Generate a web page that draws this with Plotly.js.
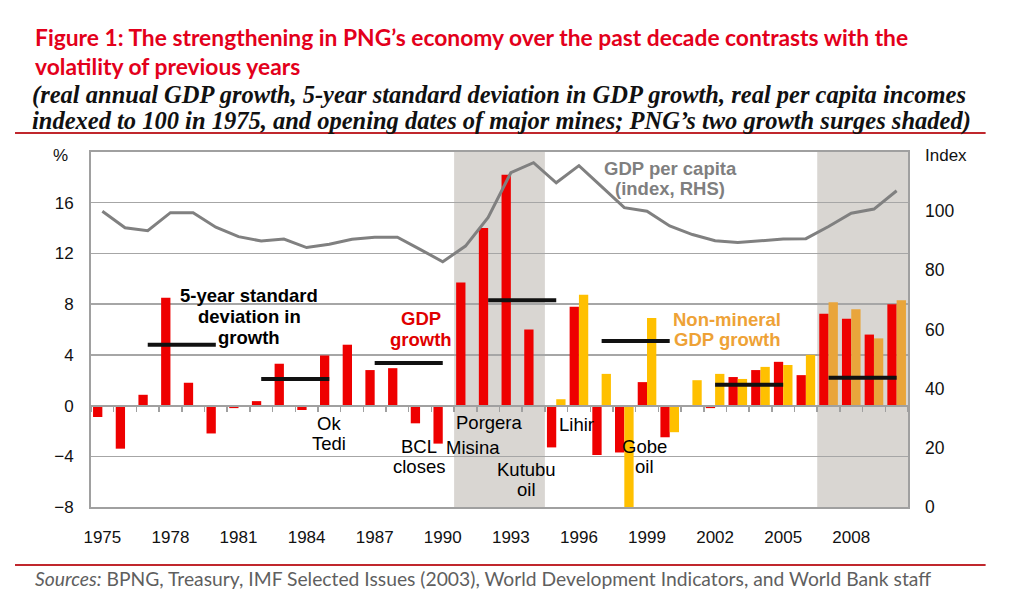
<!DOCTYPE html>
<html><head><meta charset="utf-8">
<script src="https://cdn.plot.ly/plotly-3.0.1.min.js"></script>
<style>body{margin:0;background:#fff}#chart{width:1010px;height:612px}</style>
</head><body><div id="chart"></div>
<script>
// ---- data ----
const years = [1975,1976,1977,1978,1979,1980,1981,1982,1983,1984,1985,1986,1987,1988,1989,1990,1991,1992,1993,1994,1995,1996,1997,1998,1999,2000,2001,2002,2003,2004,2005,2006,2007,2008,2009,2010];
const gdpGrowth = [-0.9,-3.4,0.85,8.5,1.8,-2.2,-0.2,0.35,3.3,-0.35,3.95,4.8,2.8,2.95,-1.4,-3.0,9.7,14.0,18.2,6.0,-3.3,7.8,-3.9,-3.7,1.85,-2.5,0.0,-0.2,2.25,2.8,3.45,2.4,7.25,6.85,5.6,8.0];
const nonMineralGrowth = [null,null,null,null,null,null,null,null,null,null,null,null,null,null,null,null,null,null,null,null,0.5,8.75,2.5,-8.1,6.9,-2.1,2.0,2.5,2.1,3.05,3.2,4.0,8.15,7.6,5.3,8.3];
const gdpPerCapitaIndex = [100,94.4,93.4,99.5,99.5,94.6,91.4,89.9,90.6,87.7,88.8,90.5,91.2,91.2,87.1,82.9,88.2,97.9,113.0,116.4,109.6,115.4,108.3,101.2,100.0,95.0,92.1,90.0,89.4,89.9,90.6,90.7,94.8,99.3,100.7,106.9];
const sdStart = [1977,1982,1987,1992,1997,2002,2007];
const sdEnd   = [1980,1985,1990,1995,2000,2005,2010];
const sdValue = [4.8,2.1,3.35,8.3,5.1,1.65,2.2];
const xTickYears = [1975,1978,1981,1984,1987,1990,1993,1996,1999,2002,2005,2008];
const leftTicks = [-8,-4,0,4,8,12,16];
const rightTicks = [0,20,40,60,80,100];
const shadeStart = [1990.5,2006.5];
const shadeEnd = [1994.5,2010.5];
const mineLabels = [["Ok","Tedi"],["BCL","closes"],["Misina"],["Porgera"],["Kutubu","oil"],["Lihir"],["Gobe","oil"]];

// ---- traces ----
const FONT = 'Arial, "Liberation Sans", sans-serif';
const orangeColors = years.map(y => y > shadeStart[1] ? '#E9A53B' : '#FFC000');
const sdX = [], sdY = [];
sdStart.forEach((s,i)=>{ sdX.push(s, sdEnd[i], null); sdY.push(sdValue[i], sdValue[i], null); });

const traces = [
  {type:'bar', x:years, y:gdpGrowth, marker:{color:'#EE0000'}, xaxis:'x', yaxis:'y', hoverinfo:'skip'},
  {type:'bar', x:years, y:nonMineralGrowth, marker:{color:orangeColors}, xaxis:'x', yaxis:'y', hoverinfo:'skip'},
  {type:'scatter', mode:'lines', x:sdX, y:sdY, line:{color:'#111111', width:4}, xaxis:'x', yaxis:'y', hoverinfo:'skip'},
  {type:'scatter', mode:'lines', x:years, y:gdpPerCapitaIndex, line:{color:'#808080', width:3}, xaxis:'x', yaxis:'y2', hoverinfo:'skip'},
  {type:'scatter', mode:'none', x:[years[0]], y:[0], xaxis:'x2', yaxis:'y', hoverinfo:'skip'}
];

const shapes = shadeStart.map((s,i)=>({type:'rect', xref:'x', yref:'paper', x0:s, x1:shadeEnd[i], y0:0, y1:1, fillcolor:'#D9D6D2', line:{width:0}, layer:'below'}));
shapes.push({type:'line', xref:'paper', yref:'paper', x0:-0.093, x1:1.095, y0:(507-133)/355, y1:(507-133)/355, line:{color:'#C0272D', width:2}});
shapes.push({type:'line', xref:'paper', yref:'paper', x0:-0.093, x1:1.095, y0:(507-565)/355, y1:(507-565)/355, line:{color:'#C0272D', width:2}});

const annotations = [];
function addPx(text, px, py, opts){
  annotations.push(Object.assign({text, x:(px-91)/817, y:(507-py)/355, xref:'paper', yref:'paper', showarrow:false, xanchor:'center', yanchor:'middle'}, opts));
}
function addLines(lines, px, py, step, opts){ lines.forEach((t,i)=> addPx(t, px, py + i*step, opts)); }

const TITLE_FONT = 'Lato, "Open Sans", Arial, sans-serif';
const SERIF = '"Liberation Serif", "Times New Roman", serif';
addPx('<b>Figure 1: The strengthening in PNG’s economy over the past decade contrasts with the</b>', 33, 37, {xanchor:'left', font:{family:TITLE_FONT, size:22.8, color:'#E3001B'}});
addPx('<b>volatility of previous years</b>', 33, 66, {xanchor:'left', font:{family:TITLE_FONT, size:22.8, color:'#E3001B'}});
addPx('<b><i>(real annual GDP growth, 5-year standard deviation in GDP growth, real per capita incomes</i></b>', 30, 95, {xanchor:'left', font:{family:SERIF, size:24.5, color:'#111'}});
addPx('<b><i>indexed to 100 in 1975, and opening dates of major mines; PNG’s two growth surges shaded)</i></b>', 30, 121, {xanchor:'left', font:{family:SERIF, size:24.5, color:'#111'}});
addPx('<i>Sources:</i> BPNG, Treasury, IMF Selected Issues (2003), World Development Indicators, and World Bank staff', 33, 578, {xanchor:'left', font:{family:TITLE_FONT, size:19.3, color:'#5F5F5F'}});
addPx('%', 60, 155, {font:{family:FONT, size:17, color:'#111'}});
addPx('Index', 946, 155, {font:{family:FONT, size:17, color:'#111'}});

const boldFont = c => ({family:FONT, size:18.5, color:c});
addLines(['<b>5-year standard</b>','<b>deviation in</b>','<b>growth</b>'], 249, 295, 21, {font:boldFont('#000')});
addLines(['<b>GDP</b>','<b>growth</b>'], 421, 318, 21, {font:boldFont('#E00000')});
addLines(['<b>GDP per capita</b>','<b>(index, RHS)</b>'], 670, 168, 20, {font:boldFont('#7F7F7F')});
addLines(['<b>Non-mineral</b>','<b>GDP growth</b>'], 727, 319, 20, {font:boldFont('#EEA236')});

const mineFont = {family:FONT, size:18.5, color:'#000'};
const minePx = [[329,423],[419,446],[473,447],[489,422],[526,469],[576,424],[644,446]];
mineLabels.forEach((lines,i)=> addLines(lines, minePx[i][0], minePx[i][1], 20.5, {font:mineFont}));

const layout = {
  width:1010, height:612,
  margin:{l:91, r:102, t:152, b:105},
  paper_bgcolor:'#fff', plot_bgcolor:'rgba(0,0,0,0)',
  showlegend:false,
  barmode:'group', bargap:0.18, bargroupgap:0,
  xaxis:{range:[1974.5,2010.5], tickvals:xTickYears, ticktext:xTickYears.map(String), ticks:'', showgrid:false, zeroline:false,
         showline:true, mirror:true, linecolor:'#A0A0A0', linewidth:2, tickfont:{family:FONT, size:17, color:'#111'}, ticklabelstandoff:14},
  xaxis2:{overlaying:'x', anchor:'free', position:8/28, range:[1974.5,2010.5], tick0:1974.5, dtick:1, ticks:'outside', ticklen:5, tickwidth:1.5, tickcolor:'#A0A0A0',
          showticklabels:false, showline:true, linecolor:'#A0A0A0', linewidth:2, showgrid:false, zeroline:false},
  yaxis:{range:[-8,20], tickvals:leftTicks, showgrid:true, gridcolor:'#A6A6A6', gridwidth:1.5, zeroline:false,
         showline:true, mirror:true, linecolor:'#A0A0A0', linewidth:2, ticks:'', tickfont:{family:FONT, size:17, color:'#111'}, ticklabelstandoff:12},
  yaxis2:{overlaying:'y', side:'right', range:[0,120], tickvals:rightTicks, showgrid:false, zeroline:false, showline:false, ticks:'',
          tickfont:{family:FONT, size:17.5, color:'#111'}, ticklabelstandoff:16},
  shapes, annotations
};
Plotly.newPlot('chart', traces, layout, {displayModeBar:false, staticPlot:true});
</script>
</body></html>
